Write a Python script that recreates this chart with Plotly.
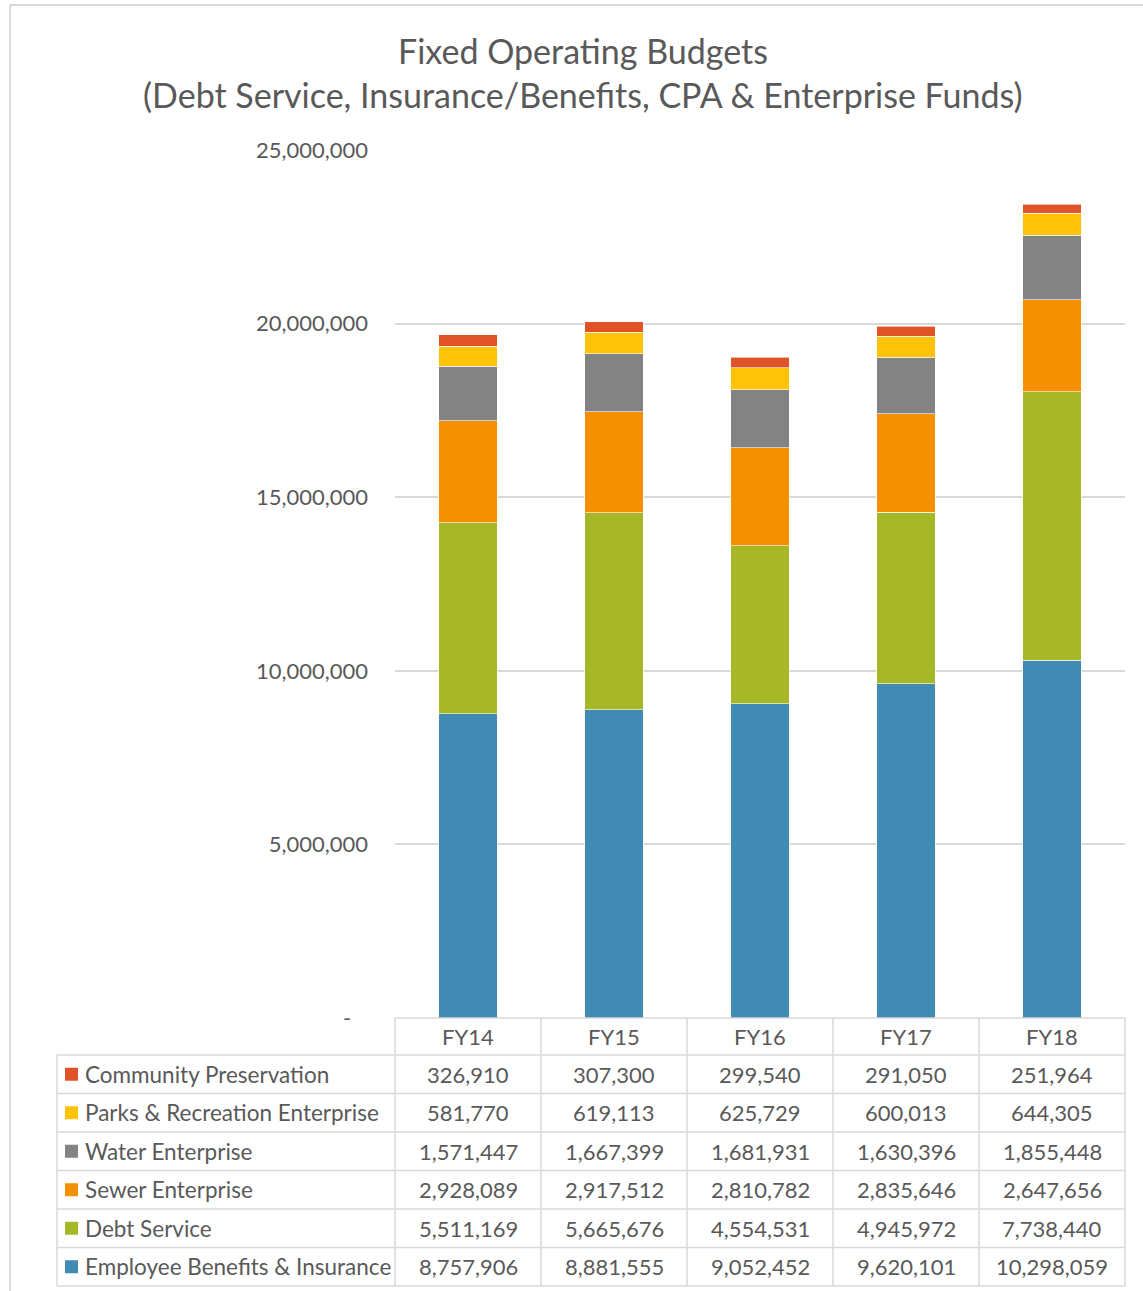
import plotly.graph_objects as go

# Fiscal years and budget components (bottom of stack first)
years = ["FY14", "FY15", "FY16", "FY17", "FY18"]

employee_benefits = [8757906, 8881555, 9052452, 9620101, 10298059]
debt_service = [5511169, 5665676, 4554531, 4945972, 7738440]
sewer_enterprise = [2928089, 2917512, 2810782, 2835646, 2647656]
water_enterprise = [1571447, 1667399, 1681931, 1630396, 1855448]
parks_recreation = [581770, 619113, 625729, 600013, 644305]
community_preservation = [326910, 307300, 299540, 291050, 251964]

series_names = [
    "Employee Benefits & Insurance",
    "Debt Service",
    "Sewer Enterprise",
    "Water Enterprise",
    "Parks & Recreation Enterprise",
    "Community Preservation",
]
series_values = [
    employee_benefits,
    debt_service,
    sewer_enterprise,
    water_enterprise,
    parks_recreation,
    community_preservation,
]
series_colors = ["#418AB3", "#A6B727", "#F59000", "#838383", "#FEC306", "#DF5327"]

y_ticks = [0, 5000000, 10000000, 15000000, 20000000, 25000000]

W, H = 1143, 1291
FONT = "Lato"
TXT = "#595959"
GRID = "#D9D9D9"


def fx(px):
    return px / W


def fy(py):
    return 1 - py / H


# plot area in pixels
PL, PR, PT, PB = 395, 1125, 150, 1018

fig = go.Figure()
for name, vals, col in zip(series_names, series_values, series_colors):
    fig.add_trace(go.Bar(
        x=years, y=vals, name=name,
        marker=dict(color=col, line=dict(color="rgba(255,255,255,0.6)", width=1)),
        showlegend=False,
    ))


def fmt(v):
    return f"{v:,}"


tick_text = ["-\u00a0\u00a0\u00a0"] + [fmt(v) for v in y_ticks[1:]]

fig.update_layout(
    width=W, height=H,
    margin=dict(l=0, r=0, t=0, b=0, pad=0, autoexpand=False),
    paper_bgcolor="white", plot_bgcolor="white",
    barmode="stack", bargap=0.6,
    showlegend=False,
    font=dict(family=FONT, color=TXT, size=22),
    xaxis=dict(domain=[fx(PL), fx(PR)], showticklabels=False, showgrid=False,
               zeroline=False, showline=False, ticks="", automargin=False),
    yaxis=dict(domain=[fy(PB), fy(PT)], range=[0, 25000000],
               tickvals=y_ticks, ticktext=tick_text,
               showgrid=True, gridcolor=GRID, gridwidth=1.5,
               zeroline=False, showline=False, ticks="", automargin=False,
               ticklabelstandoff=26, tickfont=dict(size=22, color=TXT)),
)

# Title
fig.add_annotation(x=fx(583), y=fy(50), xref="paper", yref="paper",
                   text="Fixed Operating Budgets", showarrow=False,
                   font=dict(size=34, color=TXT), xanchor="center", yanchor="middle")
fig.add_annotation(x=fx(583), y=fy(95), xref="paper", yref="paper",
                   text="(Debt Service, Insurance/Benefits, CPA & Enterprise Funds)",
                   showarrow=False, font=dict(size=34, color=TXT),
                   xanchor="center", yanchor="middle")

shapes = []


def line(x0, y0, x1, y1, color=GRID, width=1.5):
    shapes.append(dict(type="line", xref="paper", yref="paper",
                       x0=fx(x0), y0=fy(y0), x1=fx(x1), y1=fy(y1),
                       line=dict(color=color, width=width)))


# outer chart frame
line(10, 5, W, 5, width=2)
line(10, 5, 10, H, width=2)

# data table geometry
col_w = (PR - PL) / len(years)
head_top, head_bot = PB, 1055
row_h = 38.5
n_rows = len(series_names)
tab_left = 57
tab_bot = head_bot + n_rows * row_h

# horizontal rules
line(PL, head_top, PR, head_top)
for i in range(n_rows + 1):
    yy = head_bot + i * row_h
    line(tab_left, yy, PR, yy)
# vertical rules
line(tab_left, head_bot, tab_left, tab_bot)
for j in range(len(years) + 1):
    xx = PL + j * col_w
    line(xx, head_top, xx, tab_bot)

# header labels
for j, yr in enumerate(years):
    fig.add_annotation(x=fx(PL + (j + 0.5) * col_w), y=fy((head_top + head_bot) / 2),
                       xref="paper", yref="paper", text=yr, showarrow=False,
                       font=dict(size=22, color=TXT), xanchor="center", yanchor="middle")

# rows: top row is last series
for r in range(n_rows):
    k = n_rows - 1 - r
    cy = head_bot + (r + 0.5) * row_h
    shapes.append(dict(type="rect", xref="paper", yref="paper",
                       x0=fx(65), x1=fx(78), y0=fy(cy - 6.5), y1=fy(cy + 6.5),
                       fillcolor=series_colors[k], line=dict(width=0)))
    fig.add_annotation(x=fx(83), y=fy(cy), xref="paper", yref="paper",
                       text=series_names[k], showarrow=False,
                       font=dict(size=22.5, color=TXT), xanchor="left", yanchor="middle")
    for j, v in enumerate(series_values[k]):
        fig.add_annotation(x=fx(PL + (j + 0.5) * col_w), y=fy(cy),
                           xref="paper", yref="paper", text=fmt(v), showarrow=False,
                           font=dict(size=22, color=TXT), xanchor="center", yanchor="middle")

fig.update_layout(shapes=shapes)
fig.write_html("out.html")
